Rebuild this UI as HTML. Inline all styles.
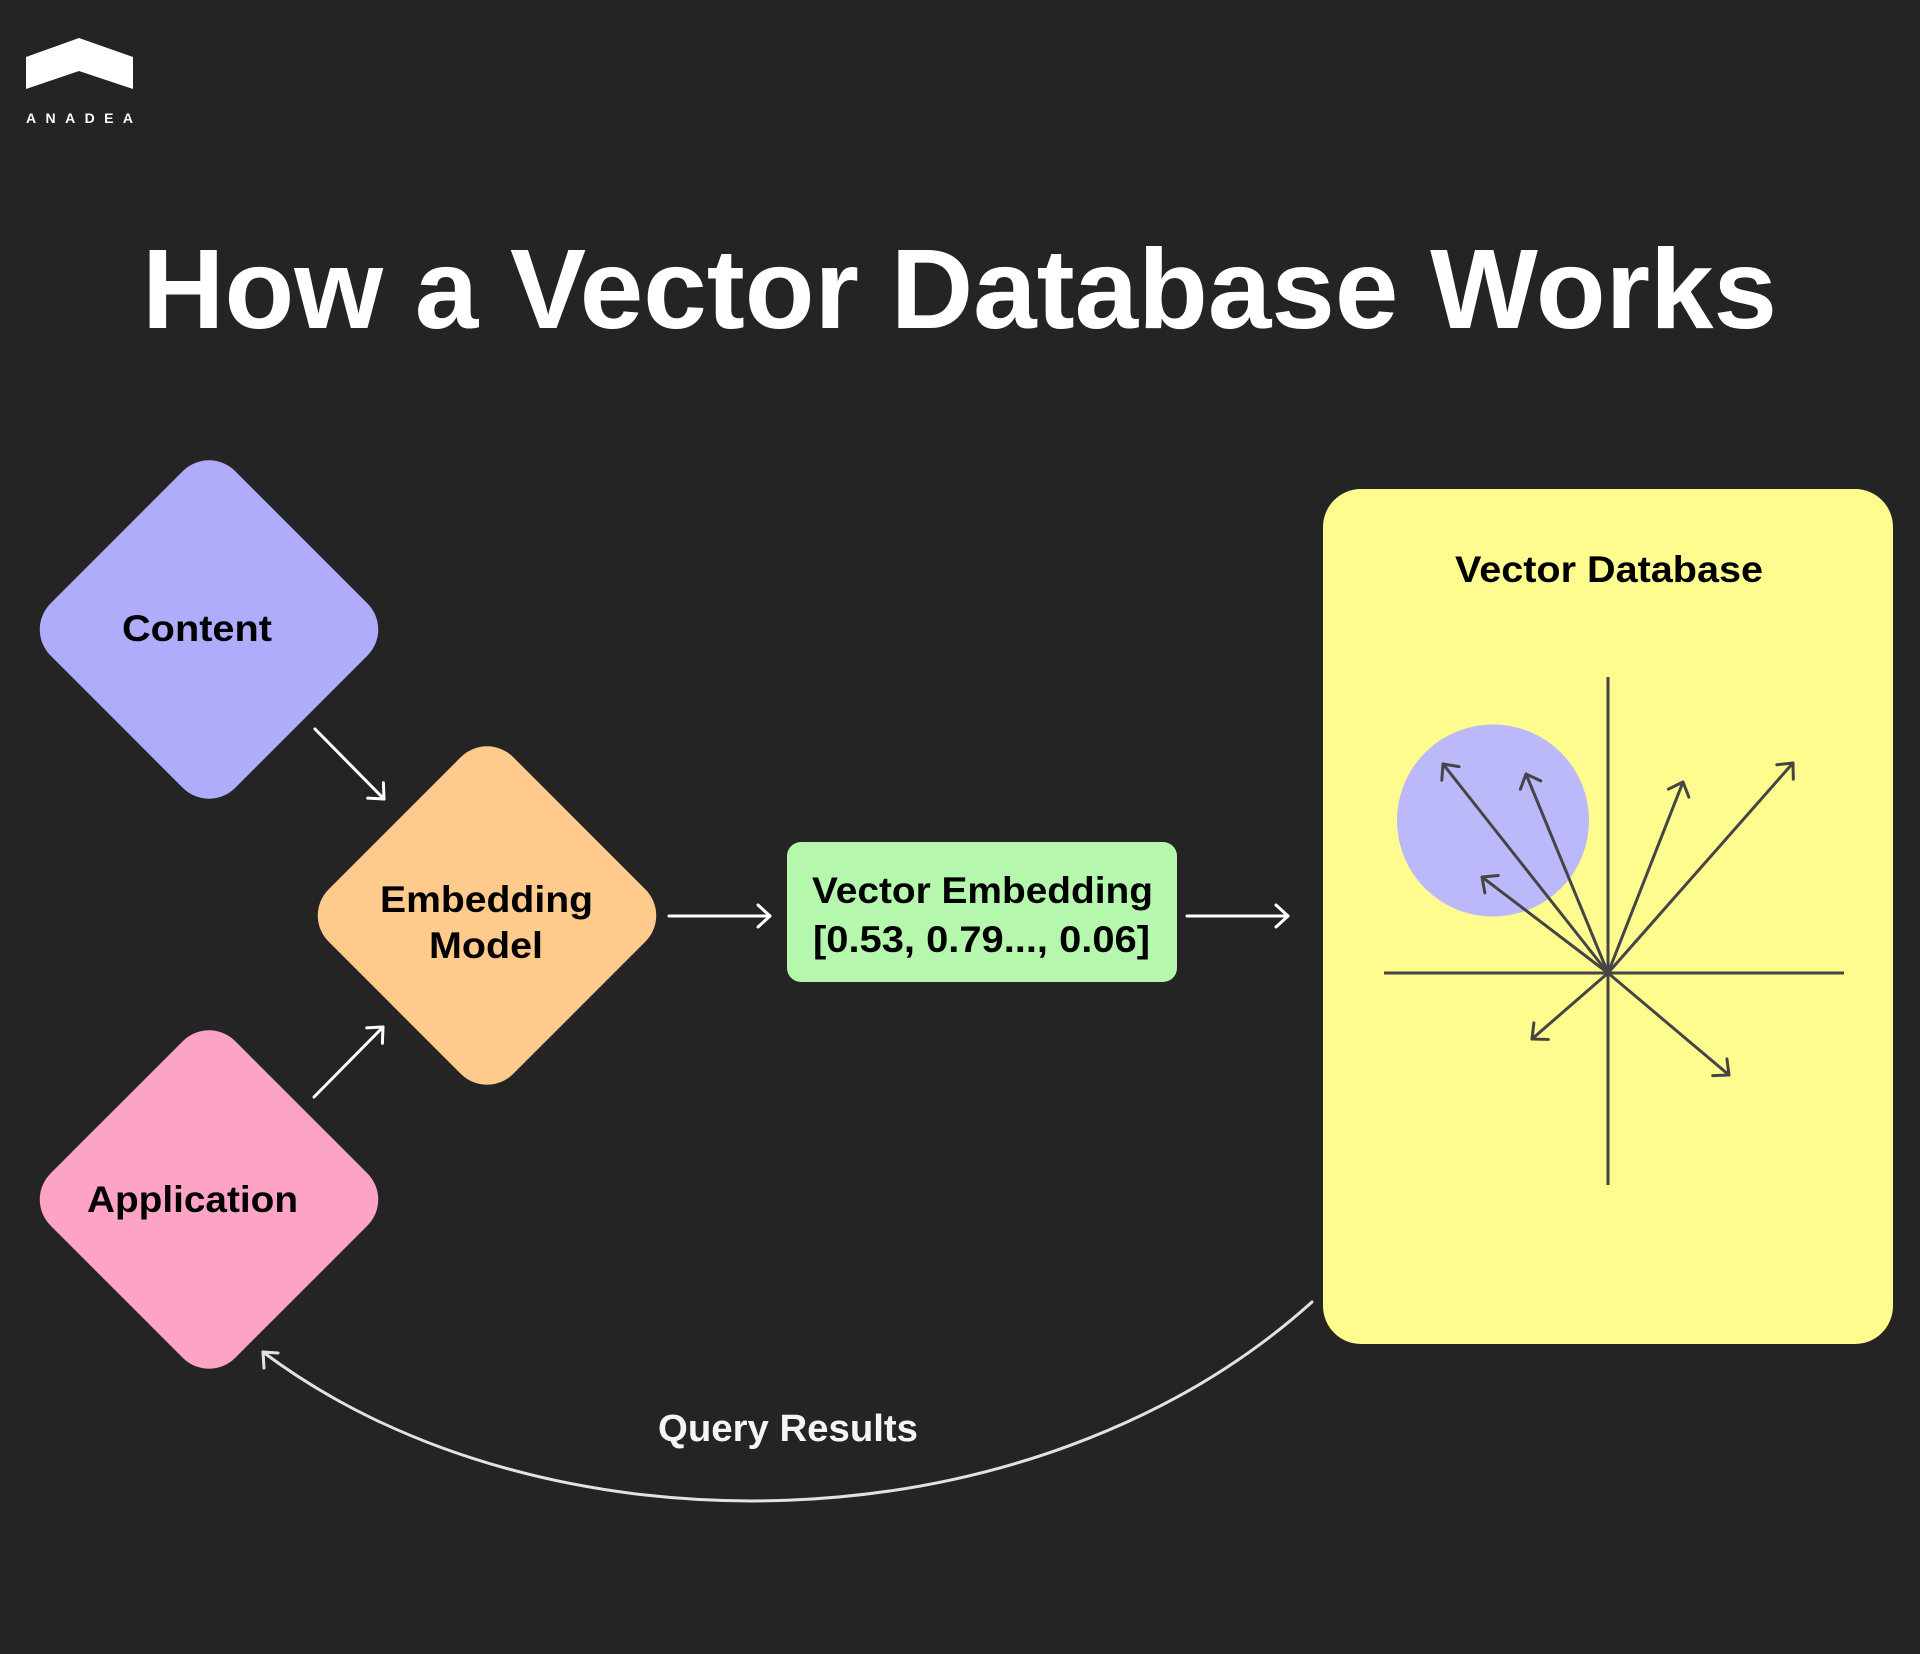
<!DOCTYPE html>
<html>
<head>
<meta charset="utf-8">
<style>
  html,body{margin:0;padding:0;background:#242424;}
  body{width:1920px;height:1654px;overflow:hidden;}
  svg{display:block;}
  text{font-family:"Liberation Sans","DejaVu Sans",sans-serif;font-weight:700;}
</style>
</head>
<body>
<svg width="1920" height="1654" viewBox="0 0 1920 1654" xmlns="http://www.w3.org/2000/svg">
  <defs>
    <marker id="mw" markerUnits="userSpaceOnUse" markerWidth="40" markerHeight="40" viewBox="-20 -20 40 40" refX="0" refY="0" orient="auto">
      <path d="M-12,-11 L0,0 L-12,11" fill="none" stroke="#ffffff" stroke-width="3" stroke-linecap="round" stroke-linejoin="round"/>
    </marker>
    <marker id="mg" markerUnits="userSpaceOnUse" markerWidth="40" markerHeight="40" viewBox="-20 -20 40 40" refX="0" refY="0" orient="auto">
      <path d="M-12,-11 L0,0 L-12,11" fill="none" stroke="#e2e2e2" stroke-width="3" stroke-linecap="round" stroke-linejoin="round"/>
    </marker>
    <marker id="md" markerUnits="userSpaceOnUse" markerWidth="40" markerHeight="40" viewBox="-20 -20 40 40" refX="0" refY="0" orient="auto">
      <path d="M-12,-11 L0,0 L-12,11" fill="none" stroke="#454545" stroke-width="3" stroke-linecap="round" stroke-linejoin="round"/>
    </marker>
  </defs>

  <rect x="0" y="0" width="1920" height="1654" fill="#242424"/>

  <!-- Logo -->
  <polygon points="26,57 79,38 133,57 133,89 79,71 26,89" fill="#ffffff"/>
  <text x="26" y="123" font-size="14" fill="#ffffff" textLength="107" lengthAdjust="spacing">ANADEA</text>

  <!-- Title -->
  <text x="142" y="328" font-size="113" fill="#ffffff" textLength="1635" lengthAdjust="spacingAndGlyphs">How a Vector Database Works</text>

  <!-- Diamonds -->
  <rect x="78.5" y="499" width="261" height="261" rx="37" ry="37" fill="#afacfc" transform="rotate(45 209 629.5)"/>
  <rect x="356.5" y="785" width="261" height="261" rx="37" ry="37" fill="#fecb8d" transform="rotate(45 487 915.5)"/>
  <rect x="78.5" y="1069" width="261" height="261" rx="37" ry="37" fill="#fda4c6" transform="rotate(45 209 1199.5)"/>

  <text x="122" y="641" font-size="37" fill="#000000" textLength="150" lengthAdjust="spacingAndGlyphs">Content</text>
  <text x="380" y="912" font-size="37" fill="#000000" textLength="213" lengthAdjust="spacingAndGlyphs">Embedding</text>
  <text x="429" y="958" font-size="37" fill="#000000" textLength="114" lengthAdjust="spacingAndGlyphs">Model</text>
  <text x="87" y="1212" font-size="37" fill="#000000" textLength="211" lengthAdjust="spacingAndGlyphs">Application</text>

  <!-- Arrows into Embedding -->
  <line x1="315" y1="729" x2="384" y2="799" stroke="#ffffff" stroke-width="3" stroke-linecap="round" marker-end="url(#mw)"/>
  <line x1="314" y1="1097" x2="383" y2="1027" stroke="#ffffff" stroke-width="3" stroke-linecap="round" marker-end="url(#mw)"/>

  <!-- Embedding -> Vector Embedding -->
  <line x1="669" y1="916" x2="770" y2="916" stroke="#ffffff" stroke-width="3" stroke-linecap="round" marker-end="url(#mw)"/>

  <!-- Green box -->
  <rect x="787" y="842" width="390" height="140" rx="14" ry="14" fill="#b5f8ad"/>
  <text x="812" y="903" font-size="37" fill="#000000" textLength="341" lengthAdjust="spacingAndGlyphs">Vector Embedding</text>
  <text x="813" y="952" font-size="37" fill="#000000" textLength="337" lengthAdjust="spacingAndGlyphs">[0.53, 0.79..., 0.06]</text>

  <!-- Green -> Yellow -->
  <line x1="1187" y1="916" x2="1288" y2="916" stroke="#ffffff" stroke-width="3" stroke-linecap="round" marker-end="url(#mw)"/>

  <!-- Yellow Vector Database box -->
  <rect x="1323" y="489" width="570" height="855" rx="38" ry="38" fill="#fffc8f"/>
  <text x="1455" y="582" font-size="37" fill="#000000" textLength="308" lengthAdjust="spacingAndGlyphs">Vector Database</text>

  <circle cx="1493" cy="820.5" r="96" fill="#bcb9fa"/>

  <!-- Axes -->
  <line x1="1608" y1="677" x2="1608" y2="1185" stroke="#454545" stroke-width="3"/>
  <line x1="1384" y1="973" x2="1844" y2="973" stroke="#454545" stroke-width="3"/>

  <!-- Vectors -->
  <g stroke="#454545" stroke-width="3" stroke-linecap="round" marker-end="url(#md)">
    <line x1="1608" y1="973" x2="1443" y2="764"/>
    <line x1="1608" y1="973" x2="1526" y2="774"/>
    <line x1="1608" y1="973" x2="1683" y2="782"/>
    <line x1="1608" y1="973" x2="1793" y2="763"/>
    <line x1="1608" y1="973" x2="1482" y2="877"/>
    <line x1="1608" y1="973" x2="1532" y2="1039"/>
    <line x1="1608" y1="973" x2="1729" y2="1075"/>
  </g>

  <!-- Query results curve -->
  <path d="M1312,1302 C1032,1554 543,1562 263,1352" fill="none" stroke="#e2e2e2" stroke-width="3" stroke-linecap="round"/>
  <polyline points="278,1353 263,1352 264,1368" fill="none" stroke="#e2e2e2" stroke-width="3" stroke-linecap="round" stroke-linejoin="round"/>
  <text x="658" y="1441" font-size="38" fill="#f5f5f5" textLength="260" lengthAdjust="spacingAndGlyphs">Query Results</text>
</svg>
</body>
</html>
